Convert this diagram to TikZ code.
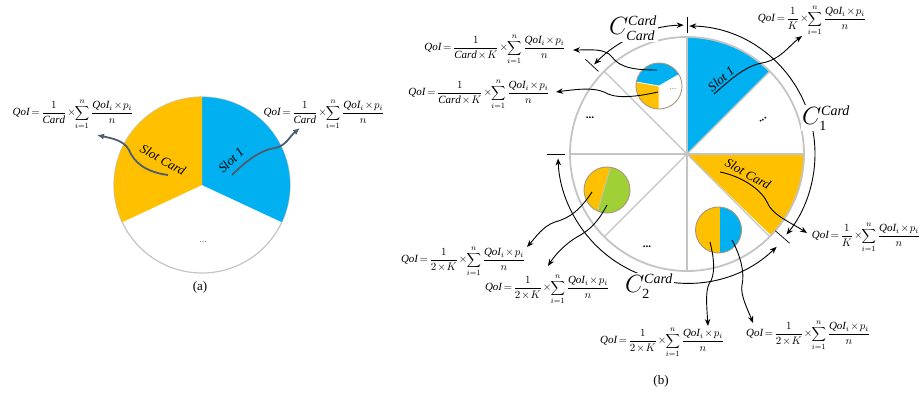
\documentclass[tikz,border=0pt]{standalone}
\usepackage{fontspec}
\setmainfont{Liberation Serif}
\usetikzlibrary{arrows.meta,calc}
\definecolor{cblue}{HTML}{00B0F0}
\definecolor{cyel}{HTML}{FFC000}
\definecolor{cgreen}{HTML}{9FD035}
\definecolor{cgray}{HTML}{C4C4C4}
\definecolor{cedge}{HTML}{A8987A}
\definecolor{carr}{HTML}{4E5C72}
\newcommand{\qoiform}[1]{{\medmuskip=1.5mu\thickmuskip=2.5mu$\displaystyle \mathit{QoI}=\frac{1}{#1}\times\!\sum_{i=1}^{n}\frac{\mathit{QoI}_i\times p_i}{n}$}}
\newcommand{\bigC}[2]{$C^{\mbox{\fontsize{14}{14}\selectfont\itshape #1}}_{\mbox{\fontsize{14}{14}\selectfont #2}}$}
\begin{document}
\begin{tikzpicture}[x=1pt,y=1pt,
  formula/.style={inner sep=0pt,font=\fontsize{11}{12}\selectfont},
  slotlbl/.style={inner sep=0pt,font=\fontsize{13}{13}\selectfont\itshape},
  clbl/.style={inner sep=1pt,fill=white,font=\fontsize{27}{27}\selectfont},
  warr/.style={carr,line width=1.8pt,-{Latex[length=7pt,width=6pt]}},
  barr/.style={black,line width=0.9pt,-{Stealth[length=7pt,width=5.5pt]}},
  darr/.style={black,line width=0.9pt,{Stealth[length=7pt,width=5.5pt]}-{Stealth[length=7pt,width=5.5pt]}},
  tick/.style={black,line width=0.7pt},
  pieedge/.style={cedge,line width=0.9pt},
  dots/.style={inner sep=0pt,font=\bfseries\fontsize{11}{11}\selectfont}
]
\useasboundingbox (0,0) rectangle (924,-401);
% ---------------- panel (a)
\coordinate (A) at (202,-185);
\draw[cgray,line width=1.2pt] (A) circle (88);
\fill[cblue] (A) -- ++(90:88) arc[start angle=90,end angle=-25,radius=88] -- cycle;
\fill[cyel] (A) -- ++(90:88) arc[start angle=90,end angle=205,radius=88] -- cycle;
\node[inner sep=0pt,text=gray,font=\fontsize{10}{10}\selectfont] (adots) at (203,-242) {...};
\node[slotlbl,rotate=-29] (aslotc) at (163,-160) {Slot Card};
\node[slotlbl,rotate=44] (aslot1) at (231,-160) {Slot 1};
\node[formula] (aF1) at (73,-114) {\qoiform{\mathit{Card}}};
\node[formula] (aF2) at (324,-114) {\qoiform{\mathit{Card}}};
\coordinate (aS1) at (168,-175);
\coordinate (aE1) at (97,-135);
\coordinate (aS2) at (232,-175);
\coordinate (aE2) at (300,-128);
\draw[warr] (aS1) .. controls (145,-172) and (134,-162) .. (129,-150) .. controls (124,-140) and (110,-138) .. (aE1);
\draw[warr] (aS2) .. controls (245,-162) and (260,-150) .. (275,-148) .. controls (286,-146) and (290,-136) .. (aE2);
\node[inner sep=0pt,font=\fontsize{13}{13}\selectfont] (alab) at (200,-287) {(a)};
% ---------------- panel (b)
\coordinate (B) at (687,-154);
\fill[cblue] (B) -- ++(90:117) arc[start angle=90,end angle=45,radius=117] -- cycle;
\fill[cyel] (B) -- ++(0:117) arc[start angle=0,end angle=-44,radius=117] -- cycle;
\foreach \a in {0,45,...,315} \draw[cgray,line width=1.1pt] (B) -- ++(\a:117);
\draw[cgray,line width=1.8pt] (B) circle (117);
% small pie 1
\coordinate (P1) at (659,-86);
\fill[white] (P1) circle (23);
\fill[cblue] (P1) -- ++(30:23) arc[start angle=30,end angle=170,radius=23] -- cycle;
\fill[cyel] (P1) -- ++(170:23) arc[start angle=170,end angle=270,radius=23] -- cycle;
\draw[white,line width=0.8pt] (P1) -- ++(30:23) (P1) -- ++(170:23) (P1) -- ++(270:23);
\draw[pieedge] (P1) circle (23);
\node[inner sep=0pt,text=gray,font=\fontsize{9}{9}\selectfont] (p1dots) at (673,-89) {...};
% small pie 2
\coordinate (P2) at (607,-190);
\begin{scope}
\clip (P2) circle (23);
\fill[cyel] (P2) circle (23);
\fill[cgreen] (612.6,-160) -- (595,-220) -- (640,-220) -- (640,-160) -- cycle;
\draw[cgray,line width=0.8pt] (612.6,-160) -- (595,-220);
\end{scope}
\draw[pieedge] (P2) circle (23);
% small pie 3
\coordinate (P3) at (718.5,-230);
\begin{scope}
\clip (P3) circle (23);
\fill[cyel] (P3) circle (23);
\fill[cblue] (720,-200) rectangle (745,-260);
\end{scope}
\draw[pieedge] (P3) circle (23);
% dots in the big circle
\node[dots] (bd1) at (590,-118) {...};
\node[dots,rotate=30] (bd2) at (763,-120) {...};
\node[dots] (bd3) at (647,-247) {...};
% slot labels
\node[slotlbl,rotate=40] (bslot1) at (721,-79) {Slot 1};
\node[slotlbl,rotate=-29] (bslotc) at (748,-174) {Slot Card};
% ticks
\draw[tick] ($(B)+(90:121)$) -- ($(B)+(90:137)$);
\draw[tick] ($(B)+(137:121)$) -- ($(B)+(137:139)$);
\draw[tick] ($(B)+(180:122)$) -- ($(B)+(180:140)$);
\draw[tick] ($(B)+(-41:117)$) -- ($(B)+(-41:136)$);
% span arcs
\draw[darr] ($(B)+(89:128)$) arc[start angle=89,end angle=-39,radius=128];
\draw[darr] ($(B)+(-46:129)$) arc[start angle=-46,end angle=-178,radius=129];
\draw[darr] ($(B)+(136:129)$) arc[start angle=136,end angle=91.5,radius=129];
\node[clbl] (C1) at (826,-118) {\bigC{Card}{1}};
\node[clbl] (C2) at (649,-286) {\bigC{Card}{2}};
\node[clbl] (CC) at (633,-28) {\bigC{Card}{\itshape Card}};
% formulas
\node[formula] (F0) at (812,-20) {\qoiform{K}};
\node[formula] (F1) at (495,-49) {\qoiform{\mathit{Card}\times K}};
\node[formula] (F2) at (479,-94) {\qoiform{\mathit{Card}\times K}};
\node[formula] (F3) at (866,-237) {\qoiform{K}};
\node[formula] (F4) at (463,-261) {\qoiform{2\times K}};
\node[formula] (F5) at (547,-289) {\qoiform{2\times K}};
\node[formula] (F6) at (662,-342) {\qoiform{2\times K}};
\node[formula] (F7) at (808,-335) {\qoiform{2\times K}};
% connector ends
\coordinate (s1) at (714,-94);   \coordinate (e1) at (802,-36);
\coordinate (s2) at (720,-172);  \coordinate (e2) at (807,-233);
\coordinate (s3) at (657,-70);   \coordinate (e3) at (573,-50);
\coordinate (s4) at (658,-92);   \coordinate (e4) at (556,-92);
\coordinate (s5) at (592,-192);  \coordinate (e5) at (527,-247);
\coordinate (s6) at (607,-205);  \coordinate (e6) at (548,-266);
\coordinate (s7) at (710,-242);  \coordinate (e7) at (708,-326);
\coordinate (s8) at (732,-240);  \coordinate (e8) at (753,-323);
\draw[barr] (s1) .. controls (730,-80) and (745,-66) .. (762,-63) .. controls (780,-60) and (790,-45) .. (e1);
\draw[barr] (s2) .. controls (740,-176) and (760,-188) .. (767,-202) .. controls (772,-215) and (790,-222) .. (e2);
\draw[barr] (s3) .. controls (635,-70) and (620,-68) .. (612,-57) .. controls (605,-48) and (590,-50) .. (e3);
\draw[barr] (s4) .. controls (640,-96) and (620,-99) .. (608,-94) .. controls (598,-88) and (585,-88) .. (e4);
\draw[barr] (s5) .. controls (580,-210) and (570,-218) .. (555,-222) .. controls (543,-226) and (535,-238) .. (e5);
\draw[barr] (s6) .. controls (598,-222) and (590,-230) .. (577,-237) .. controls (565,-244) and (555,-255) .. (e6);
\draw[barr] (s7) .. controls (714,-258) and (716,-275) .. (709,-284) .. controls (705,-292) and (707,-310) .. (e7);
\draw[barr] (s8) .. controls (740,-255) and (745,-272) .. (742,-285) .. controls (740,-295) and (748,-310) .. (e8);
\node[inner sep=0pt,font=\fontsize{13}{13}\selectfont] (blab) at (661,-381) {(b)};
\end{tikzpicture}
\end{document}
